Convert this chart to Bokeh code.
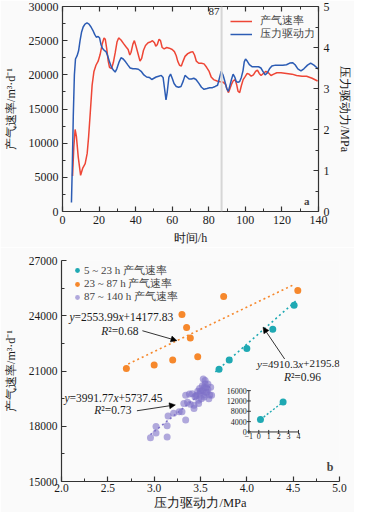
import numpy as np
from bokeh.plotting import figure
from bokeh.models import (Range1d, LinearAxis, FixedTicker, Span, Label, Legend,
                          LegendItem, Arrow, NormalHead, PrintfTickFormatter)
from bokeh.embed import file_html
from bokeh.resources import INLINE
from bokeh.core.properties import value

# ---------------- panel a data ----------------
event_time = 87
red_t = [5.5, 6.2, 6.9, 7.6, 8.6, 9.9, 11.0, 12.4, 13.5, 14.3, 15.2, 16.2, 17.2, 18.3, 19.5,
         20.6, 21.7, 22.7, 23.4, 24.2, 25.0, 25.7, 26.8, 27.8, 28.8, 29.8, 30.7, 32.0, 33.3,
         34.7, 35.9, 36.8, 37.5, 38.5, 39.3, 40.2, 41.2, 42.4, 43.3, 44.3, 45.4, 46.8, 48.0,
         49.2, 50.3, 51.0, 51.8, 52.8, 53.6, 54.5, 55.6, 57.0, 58.4, 60.0, 61.2, 62.2, 63.0,
         64.0, 65.0, 65.8, 67.0, 68.5, 70.0, 71.2, 72.2, 73.2, 74.5, 76.0, 77.4, 78.8, 80.2,
         81.3, 82.6, 84.5, 86.3, 88.0, 89.2, 90.0, 90.8, 91.6, 92.4, 93.3, 94.4, 95.3, 96.0,
         96.9, 97.8, 98.8, 99.8, 101.0, 102.0, 103.2, 104.4, 105.6, 106.6, 107.6, 108.6,
         109.8, 111.2, 112.6, 114.0, 115.5, 117.2, 119.5, 122.5, 125.5, 128.0, 131.0, 133.5,
         136.5, 139.5]
red_v = [5200, 9500, 12000, 11000, 8000, 5300, 6300, 7000, 8500, 11000, 14500, 18500, 20500,
         21400, 22000, 23000, 24500, 25400, 25200, 23800, 22000, 21100, 20900, 21800, 23200,
         24800, 25400, 25100, 24600, 24100, 23700, 22900, 23300, 24500, 25000, 24200, 23200,
         22000, 22400, 23600, 24300, 24700, 24800, 25000, 24700, 24200, 24400, 25200, 25000,
         24000, 23800, 24000, 23900, 23700, 23400, 22800, 22000, 21400, 21300, 21900, 22700,
         23100, 23300, 23400, 22900, 22000, 21700, 21700, 21600, 21100, 20500, 19700, 19300,
         19100, 19000, 18900, 18600, 17900, 17400, 18000, 18600, 19100, 19300, 18500, 17600,
         17400, 18400, 19300, 19700, 20200, 20100, 19800, 20000, 20500, 20700, 20200, 19900,
         20200, 20500, 20300, 19900, 20100, 20300, 20300, 20200, 20100, 19900, 19800, 19800,
         19500, 19100]
blue_t = [4.9, 5.4, 5.9, 6.5, 7.1, 8.0, 8.8, 9.6, 10.4, 11.3, 12.3, 13.4, 14.5, 15.6, 16.6,
          17.6, 18.5, 19.5, 20.3, 21.0, 21.8, 22.8, 23.8, 24.7, 25.7, 26.8, 27.8, 28.8, 29.7,
          30.8, 32.0, 33.2, 34.5, 35.8, 37.0, 38.5, 40.0, 41.5, 43.0, 44.5, 46.0, 47.5, 48.8,
          50.0, 51.2, 52.6, 54.0, 55.0, 55.8, 56.6, 57.3, 58.2, 59.1, 60.0, 61.0, 62.2, 63.5,
          64.8, 66.0, 67.0, 68.0, 69.2, 70.5, 71.8, 73.0, 74.5, 76.0, 77.4, 79.0, 80.5, 82.0,
          83.5, 84.8, 85.8, 86.8, 87.8, 88.8, 89.8, 90.7, 91.6, 92.4, 93.3, 94.2, 95.0, 96.0,
          96.9, 97.8, 98.7, 99.4, 100.1, 101.0, 102.2, 103.8, 105.5, 107.2, 108.5, 109.6,
          110.8, 112.0, 113.2, 114.5, 116.5, 118.5, 120.5, 122.5, 124.3, 125.8, 127.2, 128.7,
          130.4, 132.0, 134.0, 135.7, 137.5, 139.3, 140.0]
blue_mpa = [0.22, 1.17, 2.33, 3.33, 3.72, 3.80, 3.92, 4.17, 4.37, 4.50, 4.57, 4.60, 4.57,
            4.50, 4.42, 4.32, 4.25, 4.27, 4.23, 4.08, 3.98, 3.93, 3.90, 3.80, 3.65, 3.52,
            3.45, 3.40, 3.48, 3.63, 3.75, 3.72, 3.65, 3.57, 3.50, 3.48, 3.48, 3.47, 3.42,
            3.33, 3.28, 3.27, 3.22, 3.25, 3.28, 3.30, 3.32, 3.27, 3.00, 2.72, 2.92, 3.28,
            3.35, 3.25, 3.12, 3.05, 3.03, 3.05, 3.18, 3.32, 3.28, 3.23, 3.23, 3.25, 3.22,
            3.13, 3.03, 2.98, 3.00, 3.02, 3.02, 3.05, 3.08, 3.25, 3.42, 3.33, 3.17, 3.00,
            2.93, 3.08, 3.22, 3.35, 3.28, 3.17, 3.15, 3.17, 3.27, 3.43, 3.65, 3.72, 3.67,
            3.58, 3.53, 3.53, 3.53, 3.50, 3.42, 3.33, 3.38, 3.48, 3.55, 3.57, 3.57, 3.57,
            3.58, 3.62, 3.63, 3.58, 3.48, 3.43, 3.48, 3.57, 3.62, 3.57, 3.50, 3.47]
series_a_labels = ["产气速率", "压力驱动力"]
time_ticks = [0, 20, 40, 60, 80, 100, 120, 140]
rate_ticks_a = [0, 5000, 10000, 15000, 20000, 25000, 30000]
mpa_ticks = [0, 1, 2, 3, 4, 5]

# ---------------- panel b data ----------------
g1_x = [3.70, 3.81, 4.00, 4.28, 4.51]
g1_y = [21100, 21600, 22220, 23270, 24570]
g2_x = [2.70, 3.00, 3.20, 3.30, 3.35, 3.39, 3.47, 3.75, 4.55]
g2_y = [21130, 21330, 21600, 24070, 23360, 22790, 21770, 25050, 25370]
g3_x = [2.96, 3.02, 3.02, 3.14, 3.14, 3.15, 3.21, 3.27, 3.30, 3.32, 3.34, 3.34, 3.36, 3.39,
        3.41, 3.43, 3.43, 3.45, 3.46, 3.48, 3.48, 3.50, 3.51, 3.52, 3.52, 3.53, 3.54, 3.54,
        3.55, 3.55, 3.56, 3.57, 3.58, 3.59, 3.60, 3.61, 3.62, 3.38, 3.47, 3.50, 3.53, 3.56,
        3.49, 3.44, 3.58]
g3_y = [17370, 17640, 17990, 17420, 18030, 18560, 18700, 18790, 18790, 19230, 18340, 19680,
        19300, 19200, 19770, 19140, 18960, 19650, 19680, 19410, 19230, 19900, 19500, 19940,
        20200, 20570, 19590, 20120, 20300, 20480, 19850, 19850, 20000, 19500, 19700, 20120,
        19680, 19750, 19900, 19800, 19700, 20100, 20050, 19600, 20300]
fit1_x, fit1_y = [3.66, 4.54], [20950, 24850]
fit2_x, fit2_y = [2.72, 4.52], [21380, 25720]
fit3_x, fit3_y = [2.96, 3.60], [17550, 20150]
g_labels = ["5 ~ 23 h 产气速率", "23 ~ 87 h 产气速率", "87 ~ 140 h 产气速率"]
inset_x = [0.17, 2.45]
inset_y = [4800, 11600]
inset_xticks = [-1, 0, 1, 2, 3, 4]
inset_xlabels = ["\u22121", "0", "1", "2", "3", "4"]
inset_yticks = [0, 4000, 8000, 12000, 16000]
inset_ylabels = ["0", "4000", "8000", "12000", "16000"]
pressure_ticks = [2.0, 2.5, 3.0, 3.5, 4.0, 4.5, 5.0]
rate_ticks_b = [15000, 18000, 21000, 24000, 27000]

# ---------------- style ----------------
SERIF = "'Liberation Serif', 'Noto Sans CJK SC'"
LAB = "Liberation Serif"     # CJK glyphs fall back to the installed Noto Sans CJK
AX = "#333333"
RED = "#ee4636"
BLUE = "#2c5cb4"
TEAL = "#1fa9b3"
ORANGE = "#f6882c"
PURPLE = "#7e72c8"
BG = "#fafafa"
ROW_H = 18.5   # measured legend row height (px)


def minor(ticks):
    t = np.asarray(ticks, dtype=float)
    return list((t[:-1] + t[1:]) / 2)


def style(ax, size="12px"):
    ax.axis_line_color = AX
    ax.axis_line_width = 1.2
    ax.major_tick_in = 5
    ax.major_tick_out = 0
    ax.minor_tick_in = 3
    ax.minor_tick_out = 0
    ax.major_tick_line_color = AX
    ax.minor_tick_line_color = AX
    ax.major_tick_line_width = 1.2
    ax.major_label_text_font = LAB
    ax.major_label_text_font_size = size
    ax.major_label_text_color = "#1a1a1a"
    ax.axis_label_text_font = LAB
    ax.axis_label_text_font_size = "12px"
    ax.axis_label_text_font_style = "normal"
    ax.axis_label_text_color = "#1a1a1a"


def one_row_legend(label, rend, vx, row_center_from_bottom, pad, **kw):
    return Legend(items=[LegendItem(label=label, renderers=[rend])],
                  location=(vx, row_center_from_bottom - pad - ROW_H / 2),
                  padding=pad, spacing=0, margin=0,
                  label_text_font=LAB, label_text_font_size="11px",
                  border_line_color=None, background_fill_alpha=0, **kw)


# ================= panel a =================
TOP_W, TOP_H = 354, 247
TL, TR, TT, TB = 56, 34, 6, 36
top = figure(width=TOP_W, height=TOP_H, x_range=Range1d(0, 140), y_range=Range1d(0, 30000),
             output_backend="svg", toolbar_location=None,
             min_border_left=TL, min_border_right=TR, min_border_top=TT, min_border_bottom=TB)
top.extra_y_ranges = {"mpa": Range1d(0, 5)}
top.grid.visible = False
top.outline_line_color = None
top.background_fill_color = BG
top.border_fill_color = BG

xa = top.xaxis[0]
style(xa)
xa.ticker = FixedTicker(ticks=time_ticks, minor_ticks=minor(time_ticks))
xa.axis_label = "时间/h"
xa.major_label_standoff = 4
xa.axis_label_standoff = 4

ya = top.yaxis[0]
style(ya)
ya.ticker = FixedTicker(ticks=rate_ticks_a, minor_ticks=minor(rate_ticks_a))
ya.axis_label = "产气速率/m³·d⁻¹"
ya.major_label_standoff = 4
ya.axis_label_standoff = 8

ra = LinearAxis(y_range_name="mpa", axis_label="压力驱动力/MPa")
style(ra)
ra.ticker = FixedTicker(ticks=mpa_ticks, minor_ticks=minor(mpa_ticks))
ra.major_label_standoff = 5
ra.axis_label_standoff = 5
top.add_layout(ra, "right")

ta = LinearAxis()
style(ta)
ta.ticker = FixedTicker(ticks=time_ticks, minor_ticks=minor(time_ticks))
ta.major_label_overrides = {t: "" for t in time_ticks}
ta.major_label_standoff = 0
top.add_layout(ta, "above")

top.add_layout(Span(location=event_time, dimension="height", line_color="#d6d6d6", line_width=2))
r_red = top.line(red_t, red_v, line_color=RED, line_width=1.5)
r_blue = top.line(blue_t, blue_mpa, y_range_name="mpa", line_color=BLUE, line_width=1.5)

TFH = TOP_H - TT - TB          # frame height
for lab, rend, row_top in [(series_a_labels[0], r_red, 10), (series_a_labels[1], r_blue, 23)]:
    top.add_layout(one_row_legend(lab, rend, 168, TFH - row_top, 3,
                                  glyph_width=22, glyph_height=12, label_standoff=8))

top.add_layout(Label(x=event_time, y=30000, x_offset=-2, y_offset=-1, text=str(event_time),
                     text_align="right", text_baseline="top", text_font=SERIF,
                     text_font_size="11px", text_color="#1a1a1a"))
top.add_layout(Label(x=140, y=0, x_offset=-9, y_offset=5, text="a", text_align="right",
                     text_baseline="bottom", text_font=SERIF, text_font_size="11px",
                     text_font_style="bold"))

# ================= panel b =================
BOT_W, BOT_H = 354, 265
BL, BR, BT, BB = 59, 15, 13, 29
bot = figure(width=BOT_W, height=BOT_H, x_range=Range1d(2, 5), y_range=Range1d(15000, 27000),
             output_backend="svg", toolbar_location=None,
             min_border_left=BL, min_border_right=BR, min_border_top=BT, min_border_bottom=BB)
bot.grid.visible = False
bot.outline_line_color = None
bot.background_fill_color = BG
bot.border_fill_color = BG

bx = bot.xaxis[0]
style(bx, "11.5px")
bx.ticker = FixedTicker(ticks=pressure_ticks, minor_ticks=minor(pressure_ticks))
bx.formatter = PrintfTickFormatter(format="%.1f")
bx.axis_label = "压力驱动力/MPa"
bx.axis_label_text_font_size = "12.5px"
bx.major_label_standoff = 2
bx.axis_label_standoff = 1

by = bot.yaxis[0]
style(by, "11.5px")
by.ticker = FixedTicker(ticks=rate_ticks_b, minor_ticks=minor(rate_ticks_b))
by.axis_label = "产气速率/m³·d⁻¹"
by.major_label_standoff = 4
by.axis_label_standoff = 8

dash = "2 3"
bot.line(fit2_x, fit2_y, line_color=ORANGE, line_width=1.6, line_dash=dash)
bot.line(fit1_x, fit1_y, line_color=TEAL, line_width=1.6, line_dash=dash)
bot.line(fit3_x, fit3_y, line_color=PURPLE, line_width=1.6, line_dash=dash)
s1 = bot.scatter(g1_x, g1_y, size=7, fill_color=TEAL, line_color=None)
s2 = bot.scatter(g2_x, g2_y, size=7, fill_color=ORANGE, line_color=None)
s3 = bot.scatter(g3_x, g3_y, size=7, fill_color=PURPLE, fill_alpha=0.6, line_color=None)

FR_W = BOT_W - BL - BR
FR_H = BOT_H - BT - BB
for lab, rend, row_top in zip(g_labels, [s1, s2, s3], [8.3, 21.8, 35.0]):
    bot.add_layout(one_row_legend(lab, rend, 10, FR_H - row_top, 2,
                                  glyph_width=12, glyph_height=12, label_standoff=1))

# equation labels with italic variables
WID = {".": 0.25, "=": 0.564, "+": 0.564, "x": 0.444, "y": 0.444, "R": 0.611, "²": 0.3}


def rich(p, x, y, segs, size=11.5):
    off = 0.0
    for txt, ital in segs:
        p.add_layout(Label(x=x, y=y, x_offset=off, text=txt, text_font=SERIF,
                           text_font_size=f"{size}px",
                           text_font_style="italic" if ital else "normal",
                           text_baseline="middle", text_align="left", text_color="#1a1a1a"))
        off += sum(WID.get(c, 0.5) for c in txt) * size


rich(bot, 2.086, 23907, [("y", True), ("=2553.99", False), ("x", True), ("+14177.83", False)])
rich(bot, 2.43, 23198, [("R", True), ("²=0.68", False)])
rich(bot, 4.11, 21384, [("y", True), ("=4910.3", False), ("x", True), ("+2195.8", False)],
     size=11)
rich(bot, 4.40, 20670, [("R", True), ("²=0.96", False)])
rich(bot, 2.032, 19518, [("y", True), ("=3991.77", False), ("x", True), ("+5737.45", False)])
rich(bot, 2.354, 18857, [("R", True), ("²=0.73", False)])


def arrow(p, x0, y0, x1, y1):
    p.add_layout(Arrow(end=NormalHead(size=6, line_color="black", fill_color="black",
                                      line_width=0.5),
                       x_start=x0, y_start=y0, x_end=x1, y_end=y1,
                       line_color="black", line_width=0.8))


arrow(bot, 2.873, 23187, 3.246, float(np.interp(3.246, fit2_x, fit2_y)))
arrow(bot, 4.408, 21651, 4.175, float(np.interp(4.175, fit1_x, fit1_y)) + 150)
arrow(bot, 2.814, 18840, 3.229, 19160)

bot.add_layout(Label(x=5, y=15000, x_offset=-6, y_offset=8, text="b", text_align="right",
                     text_baseline="bottom", text_font=SERIF, text_font_size="12px",
                     text_font_style="bold"))

# ---- inset (own scales through extra ranges) ----
IN_LEFT = 188.7      # inset y-axis: px from frame left
IN_BOTTOM = 50.0     # inset x-axis: px above frame bottom
IN_WPX, IN_HPX = 50.0, 41.7
ux = (inset_xticks[-1] - inset_xticks[0]) / IN_WPX
uy = (inset_yticks[-1] - inset_yticks[0]) / IN_HPX
xs = inset_xticks[0] - IN_LEFT * ux
ys = inset_yticks[0] - IN_BOTTOM * uy
bot.extra_x_ranges = {"ix": Range1d(xs, xs + FR_W * ux)}
bot.extra_y_ranges = {"iy": Range1d(ys, ys + FR_H * uy)}
kw = dict(x_range_name="ix", y_range_name="iy")
bot.line([inset_xticks[0], inset_xticks[0]], [inset_yticks[0], inset_yticks[-1]],
         line_color=AX, line_width=1, **kw)
bot.line([inset_xticks[0], inset_xticks[-1]], [inset_yticks[0], inset_yticks[0]],
         line_color=AX, line_width=1, **kw)
bot.scatter([inset_xticks[0]] * len(inset_yticks), inset_yticks, marker="dash", size=4,
            line_color=AX, **kw)
bot.scatter(inset_xticks, [inset_yticks[0]] * len(inset_xticks), marker="dash", size=4,
            angle=np.pi / 2, line_color=AX, **kw)
bot.text([inset_xticks[0]] * len(inset_yticks), inset_yticks, text=inset_ylabels,
         x_offset=-2, text_align="right", text_baseline="middle",
         text_font=value(SERIF), text_font_size="8px", text_color="#1a1a1a", **kw)
bot.text(inset_xticks, [inset_yticks[0]] * len(inset_xticks), text=inset_xlabels,
         y_offset=1, text_align="center", text_baseline="top",
         text_font=value(SERIF), text_font_size="8px", text_color="#1a1a1a", **kw)
bot.line(inset_x, inset_y, line_color=TEAL, line_width=1.4, line_dash="2 2", **kw)
bot.scatter(inset_x, inset_y, size=7, fill_color=TEAL, line_color=None, **kw)

open("out.html", "w").write(file_html([top, bot], INLINE))
